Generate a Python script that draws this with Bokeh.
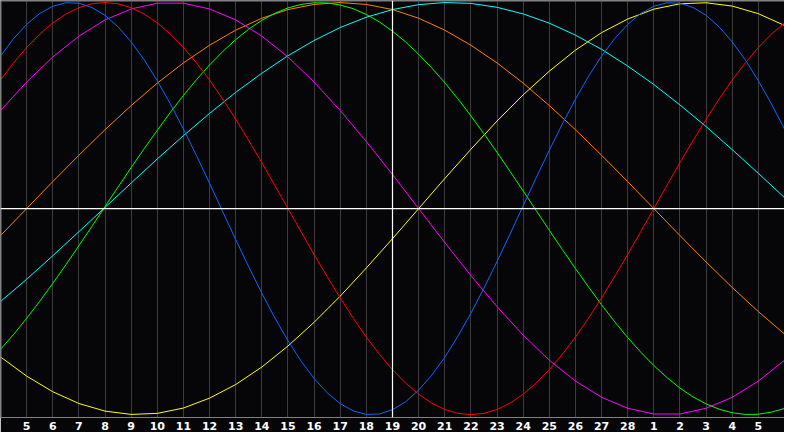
from bokeh.plotting import figure
from bokeh.models import Range1d, FixedTicker, Span
from bokeh.embed import file_html
from bokeh.resources import INLINE

# day offsets from Feb 4 (0) to Mar 6 (30)
days = list(range(31))
half_days = [i / 2 for i in range(61)]

tick_days = list(range(1, 30))
tick_labels = ["5", "6", "7", "8", "9", "10", "11", "12", "13", "14", "15", "16",
               "17", "18", "19", "20", "21", "22", "23", "24", "25", "26", "27", "28",
               "1", "2", "3", "4", "5"]
today = 15

# sampled every half day
blue = [0.740, 0.825, 0.894, 0.947, 0.982, 0.999, 0.997, 0.976, 0.938, 0.882,
        0.809, 0.722, 0.620, 0.508, 0.386, 0.257, 0.123, -0.014, -0.150, -0.283,
        -0.411, -0.531, -0.641, -0.740, -0.825, -0.894, -0.947, -0.982, -0.999, -0.997,
        -0.976, -0.938, -0.881, -0.809, -0.722, -0.620, -0.508, -0.386, -0.257, -0.123,
        0.014, 0.150, 0.283, 0.411, 0.531, 0.642, 0.740, 0.825, 0.894, 0.947,
        0.982, 0.999, 0.997, 0.976, 0.938, 0.882, 0.809, 0.722, 0.620, 0.508, 0.386]
red = [0.624, 0.707, 0.782, 0.847, 0.901, 0.944, 0.975, 0.994, 1.000, 0.994,
       0.975, 0.944, 0.901, 0.847, 0.782, 0.707, 0.624, 0.532, 0.434, 0.330,
       0.223, 0.112, 0.000, -0.112, -0.223, -0.330, -0.434, -0.532, -0.624, -0.707,
       -0.782, -0.847, -0.901, -0.944, -0.975, -0.994, -1.000, -0.994, -0.975, -0.944,
       -0.901, -0.847, -0.782, -0.707, -0.624, -0.532, -0.434, -0.330, -0.223, -0.112,
       0.000, 0.112, 0.223, 0.330, 0.434, 0.532, 0.624, 0.707, 0.782, 0.847, 0.901]
green = [-0.683, -0.611, -0.533, -0.450, -0.363, -0.273, -0.180, -0.086, 0.010, 0.105,
         0.199, 0.291, 0.380, 0.467, 0.549, 0.626, 0.697, 0.762, 0.820, 0.871,
         0.914, 0.948, 0.974, 0.991, 0.999, 0.998, 0.988, 0.970, 0.942, 0.906,
         0.861, 0.809, 0.749, 0.683, 0.611, 0.533, 0.450, 0.363, 0.273, 0.180,
         0.086, -0.010, -0.105, -0.199, -0.291, -0.380, -0.467, -0.549, -0.626, -0.697,
         -0.762, -0.820, -0.871, -0.914, -0.948, -0.974, -0.991, -0.999, -0.998, -0.988, -0.970]

# sampled every day
orange = [-0.131, 0.000, 0.131, 0.259, 0.383, 0.500, 0.609, 0.707, 0.793, 0.866,
          0.924, 0.966, 0.991, 1.000, 0.991, 0.966, 0.924, 0.866, 0.793, 0.707,
          0.609, 0.500, 0.383, 0.259, 0.131, 0.000, -0.131, -0.259, -0.383, -0.500, -0.609]
cyan = [-0.451, -0.343, -0.229, -0.112, 0.006, 0.124, 0.241, 0.354, 0.462, 0.564,
        0.657, 0.742, 0.816, 0.879, 0.929, 0.966, 0.990, 1.000, 0.996, 0.977,
        0.945, 0.900, 0.842, 0.773, 0.692, 0.602, 0.503, 0.398, 0.286, 0.171, 0.053]
magenta = [0.476, 0.614, 0.736, 0.837, 0.916, 0.969, 0.997, 0.997, 0.969, 0.916,
           0.837, 0.736, 0.614, 0.476, 0.325, 0.165, 0.000, -0.165, -0.325, -0.476,
           -0.614, -0.736, -0.837, -0.916, -0.969, -0.997, -0.997, -0.969, -0.916, -0.837, -0.736]
yellow = [-0.720, -0.813, -0.889, -0.946, -0.983, -0.999, -0.994, -0.968, -0.920, -0.854,
          -0.769, -0.667, -0.552, -0.425, -0.288, -0.146, 0.000, 0.146, 0.288, 0.425,
          0.552, 0.667, 0.769, 0.854, 0.920, 0.968, 0.994, 0.999, 0.983, 0.946, 0.889]

series = [
    (days, orange, "#ff8000"),
    (days, cyan, "#00ffff"),
    (days, yellow, "#ffff00"),
    (days, magenta, "#ff00ff"),
    (half_days, green, "#00ff00"),
    (half_days, red, "#ff0000"),
    (half_days, blue, "#1464ff"),
]

BG = "#060608"
p = figure(width=784, height=432, x_range=Range1d(0, 30), y_range=Range1d(-1.014, 1.01),
           output_backend="svg", toolbar_location=None,
           min_border_left=0, min_border_right=0, min_border_top=0, min_border_bottom=0,
           background_fill_color=BG, border_fill_color=BG)
p.outline_line_color = None
p.yaxis.visible = False
p.ygrid.visible = False

ax = p.xaxis[0]
ax.ticker = FixedTicker(ticks=tick_days)
ax.major_label_overrides = {d: lab for d, lab in zip(tick_days, tick_labels)}
ax.major_tick_in = 0
ax.major_tick_out = 0
ax.minor_tick_in = 0
ax.minor_tick_out = 0
ax.axis_line_color = "#808080"
ax.major_label_text_color = "white"
ax.major_label_text_font = "DejaVu Sans"
ax.major_label_text_font_style = "bold"
ax.major_label_text_font_size = "11px"
ax.major_label_standoff = 4

p.xgrid.ticker = FixedTicker(ticks=tick_days)
p.xgrid.grid_line_color = "#3c3c3c"
p.xgrid.grid_line_width = 1

p.add_layout(Span(location=0, dimension="height", line_color="#808080", line_width=2))
p.add_layout(Span(location=1.01, dimension="width", line_color="#808080", line_width=2))
p.add_layout(Span(location=0, dimension="width", line_color="white", line_width=1.2))
p.add_layout(Span(location=today, dimension="height", line_color="white", line_width=1.2))

for xs, vals, col in series:
    p.line(xs, vals, line_color=col, line_width=1)

open("out.html", "w").write(file_html(p, INLINE))
